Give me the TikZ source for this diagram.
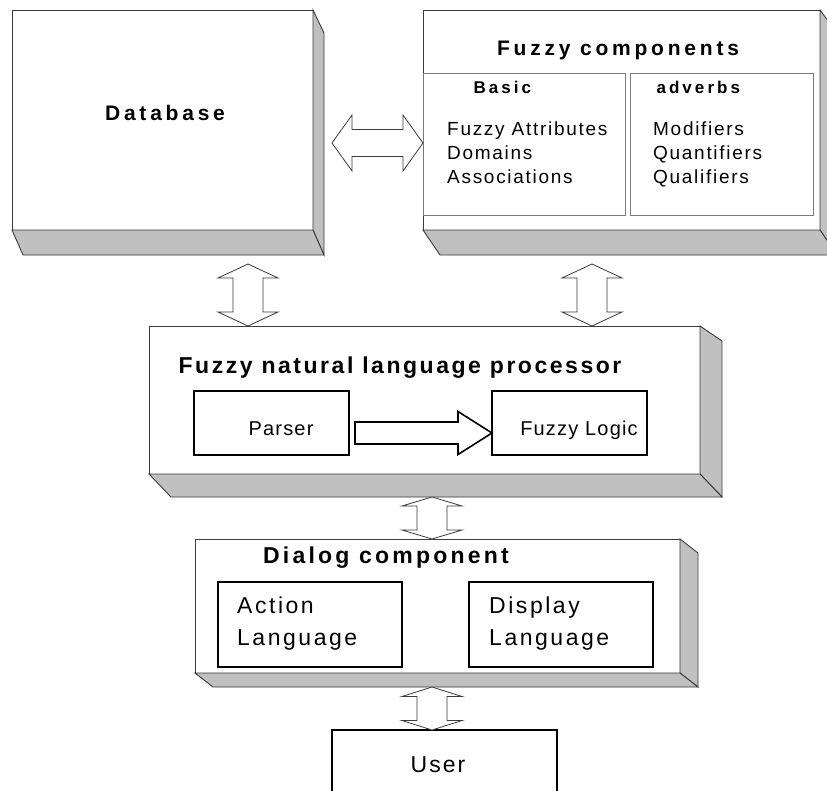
\documentclass[tikz,border=0pt]{standalone}
\usepackage{fontspec}
\setmainfont{Liberation Sans}
\usetikzlibrary{calc}

\definecolor{edgegray}{HTML}{3A3A3A}
\definecolor{sidegray}{HTML}{C0C0C0}
\definecolor{panelgray}{HTML}{7A7A7A}

% text sizes are given in px, one px being one pt here
\newcommand{\headfont}[2]{\fontsize{#1}{#1}\selectfont\bfseries\addfontfeatures{LetterSpace=#2}}
\newcommand{\bodyfont}[3]{\fontsize{#1}{#2}\selectfont\addfontfeatures{LetterSpace=#3}}

\tikzstyle{frontface} = [draw=edgegray, fill=white, rectangle, line width=0.9pt,
  inner sep=0pt, outer sep=0pt, anchor=north west]
\tikzstyle{panel} = [draw=panelgray, rectangle, line width=0.7pt,
  inner sep=0pt, outer sep=0pt, anchor=north west]
\tikzstyle{unit} = [draw=black, fill=white, rectangle, line width=1.6pt,
  inner sep=0pt, outer sep=0pt, anchor=north west]
\tikzstyle{sideface} = [draw=edgegray, fill=sidegray, line width=0.9pt, line join=miter]
\tikzstyle{blockarrow} = [draw=edgegray, fill=white, line width=0.8pt, line join=miter]
\tikzstyle{bigarrow} = [draw=black, fill=white, line width=1.6pt, line join=miter]

% right and bottom faces of a box: node, dx, dy, drop of the right face at the top
\newcommand{\slab}[4]{%
  \filldraw[sideface] (#1.north east) -- ++(#2,#4) -- ($(#1.south east)+(#2,#3)$)
    -- (#1.south east) -- cycle;
  \filldraw[sideface] (#1.south west) -- ++(#2,#3) -- ($(#1.south east)+(#2,#3)$)
    -- (#1.south east) -- cycle;}

% vertical double block arrow: upper tip, lower tip, head length
\newcommand{\vdarrow}[3]{%
  \draw[blockarrow] let \p1 = (#1), \p2 = (#2) in
    (\p1) -- (\x1+30pt,\y1-#3) -- (\x1+15pt,\y1-#3) -- (\x1+15pt,\y2+#3)
    -- (\x1+30pt,\y2+#3) -- (\x1,\y2) -- (\x1-30pt,\y2+#3) -- (\x1-15pt,\y2+#3)
    -- (\x1-15pt,\y1-#3) -- (\x1-30pt,\y1-#3) -- cycle;}

% horizontal double block arrow: left tip, right tip
\newcommand{\hdarrow}[2]{%
  \draw[blockarrow] let \p1 = (#1), \p2 = (#2) in
    (\p1) -- (\x1+20pt,\y1+28pt) -- (\x1+20pt,\y1+13.5pt) -- (\x2-20pt,\y1+13.5pt)
    -- (\x2-20pt,\y1+28pt) -- (\x2,\y1) -- (\x2-20pt,\y1-28pt) -- (\x2-20pt,\y1-13.5pt)
    -- (\x1+20pt,\y1-13.5pt) -- (\x1+20pt,\y1-28pt) -- cycle;}

\begin{document}
\begin{tikzpicture}[x=1pt, y=-1pt]
  \clip (0,0) rectangle (827,790);

  % database
  \node [frontface, minimum width=301pt, minimum height=220pt] (db) at (12,10) {};
  \slab{db}{11}{25}{23}
  \node [anchor=base] (dbtitle) at (165,120) {\headfont{21}{18}Database};

  % fuzzy components
  \node [frontface, minimum width=397pt, minimum height=220pt] (fc) at (423,10) {};
  \slab{fc}{17}{25}{23}
  \node [panel, minimum width=202pt, minimum height=142pt] (basic)   at (423,73) {};
  \node [panel, minimum width=183pt, minimum height=142pt] (adverbs) at (630,73) {};
  \node [anchor=base] (fctitle) at (618,55) {\headfont{21}{18}Fuzzy components};
  \node [anchor=base west] (basictitle)   at (470,93) {\headfont{17}{18}Basic};
  \node [anchor=base west] (adverbstitle) at (653,93) {\headfont{17}{18}adverbs};
  % base of a multi-line node is the baseline of its last line
  \node [anchor=base west, align=left, inner sep=0pt, font=\bodyfont{19}{24}{9}]
    (basiclist) at (447,183) {Fuzzy Attributes\\Domains\\Associations};
  \node [anchor=base west, align=left, inner sep=0pt, font=\bodyfont{19}{24}{9}]
    (adverbslist) at (653,183) {Modifiers\\Quantifiers\\Qualifiers};

  % fuzzy natural language processor
  \node [frontface, minimum width=551pt, minimum height=148pt] (nlp) at (149,326) {};
  \slab{nlp}{22}{23}{15}
  \node [anchor=base] (nlptitle) at (400,373) {\headfont{23}{11}Fuzzy natural language processor};
  \node [unit, minimum width=155pt, minimum height=64pt] (parser) at (194,391) {};
  \node [unit, minimum width=155pt, minimum height=64pt] (logic)  at (492,391) {};
  \node [anchor=base] (parsertext) at (281,435) {\bodyfont{20}{20}{6}Parser};
  \node [anchor=base] (logictext)  at (579,435) {\bodyfont{20}{20}{6}Fuzzy Logic};

  % dialog component
  \node [frontface, minimum width=485pt, minimum height=134pt] (dlg) at (195,539) {};
  \slab{dlg}{18}{14}{14}
  \node [anchor=base] (dlgtitle) at (386,563) {\headfont{23}{14}Dialog component};
  \node [unit, minimum width=184pt, minimum height=85pt] (action)  at (218,582) {};
  \node [unit, minimum width=184pt, minimum height=85pt] (display) at (469,582) {};
  \node [anchor=base west, align=left, inner sep=0pt, font=\bodyfont{23}{32}{11}]
    (actiontext) at (237,645) {Action\\Language};
  \node [anchor=base west, align=left, inner sep=0pt, font=\bodyfont{23}{32}{11}]
    (displaytext) at (489,645) {Display\\Language};

  % user
  \node [unit, minimum width=225pt, minimum height=80pt] (user) at (332,730) {};
  \node [anchor=base] (usertext) at (438,772) {\bodyfont{23}{23}{9}User};

  % connections
  \coordinate (dbside) at (332,143);
  \coordinate (dbout)  at (248,264);
  \coordinate (fcout)  at (592,264);
  \coordinate (nlpout) at (432,497);
  \coordinate (dlgout) at (432,687);
  \coordinate (pa)     at ([shift={(6,10)}]parser.east);

  \hdarrow{dbside}{dbside -| fc.west}
  \vdarrow{dbout}{dbout |- nlp.north}{14pt}
  \vdarrow{fcout}{fcout |- nlp.north}{14pt}
  \vdarrow{nlpout}{nlpout |- dlg.north}{9pt}
  \vdarrow{dlgout}{dlgout |- user.north}{9.5pt}

  \draw[bigarrow] let \p1 = (pa), \p2 = (logic.west) in
    (\x1,\y1+11pt) -- (\x2-34pt,\y1+11pt) -- (\x2-34pt,\y1+21.5pt) -- (\x2,\y1)
    -- (\x2-34pt,\y1-21.5pt) -- (\x2-34pt,\y1-11pt) -- (\x1,\y1-11pt) -- cycle;
\end{tikzpicture}
\end{document}
